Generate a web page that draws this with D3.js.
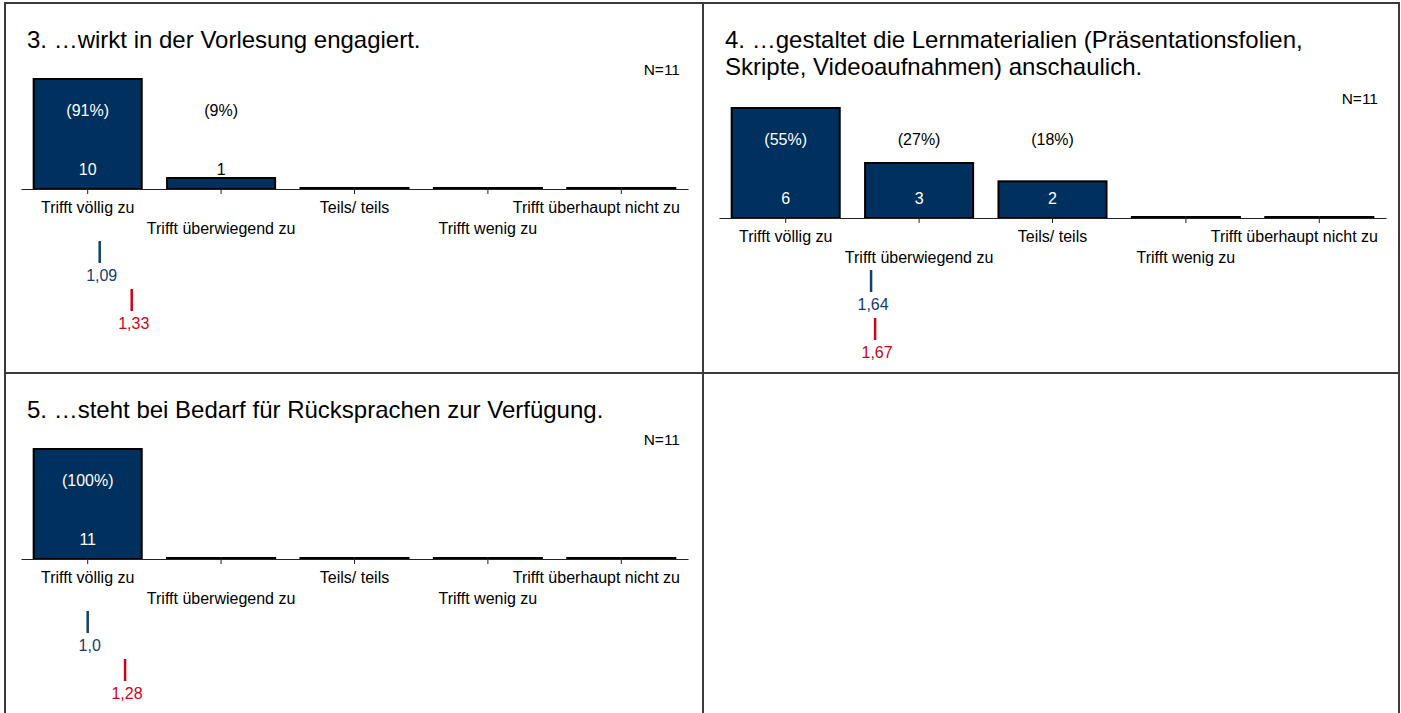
<!DOCTYPE html>
<html>
<head>
<meta charset="utf-8">
<script src="https://cdn.jsdelivr.net/npm/d3@7"></script>
<style>
  body { margin: 0; background: #fff; }
  svg { font-family: "Liberation Sans", Arial, sans-serif; display: block; }
</style>
</head>
<body>
<div id="ChartContainer"></div>
<script>
// data
var categories = ["Trifft völlig zu", "Trifft überwiegend zu", "Teils/ teils", "Trifft wenig zu", "Trifft überhaupt nicht zu"]
var titles = [
  ["3. …wirkt in der Vorlesung engagiert."],
  ["4. …gestaltet die Lernmaterialien (Präsentationsfolien,", "Skripte, Videoaufnahmen) anschaulich."],
  ["5. …steht bei Bedarf für Rücksprachen zur Verfügung."]
]
var counts = [
  [10, 1, 0, 0, 0],
  [6, 3, 2, 0, 0],
  [11, 0, 0, 0, 0]
]
var percents = [
  [91, 9, 0, 0, 0],
  [55, 27, 18, 0, 0],
  [100, 0, 0, 0, 0]
]
var nTotals = [11, 11, 11]
var means = [1.09, 1.64, 1.0]
var meanLabels = ["1,09", "1,64", "1,0"]
var refMeans = [1.33, 1.67, 1.28]
var refLabels = ["1,33", "1,67", "1,28"]

var fullWidth = 1401
var fullHeight = 713
var barColor = "#00305e"
var blue = "#12406f"
var red = "#d0021b"
var labelSize = 16

// panel origins (grid of 2 x 2, last one empty)
var panels = [
  {x: 5, y: 3},
  {x: 703, y: 3},
  {x: 5, y: 373}
]

var svg = d3.select("#ChartContainer").append("svg")
  .attr("width", fullWidth)
  .attr("height", fullHeight)

function drawPanel(i) {
  var p = panels[i]
  var g = svg.append("g")
    .attr("transform", `translate(${p.x},${p.y})`)

  var lines = titles[i]
  var axisY = 186 + (lines.length - 1) * 29
  var barMax = 110

  // Title
  g.selectAll(".Title")
    .data(lines)
    .enter().append("text")
    .attr("class", "Title")
    .attr("x", 22)
    .attr("y", (d, k) => 37 + k * 27)
    .attr("dy", "0.35em")
    .attr("font-size", 24)
    .attr("fill", "#000")
    .text(d => d)

  // N label
  g.append("text")
    .attr("x", 675)
    .attr("y", axisY - 119)
    .attr("dy", "0.35em")
    .attr("text-anchor", "end")
    .attr("font-size", 15.5)
    .text("N=" + nTotals[i])

  var x = d3.scaleBand()
    .domain(categories)
    .range([16, 683])
    .paddingInner(0.19)
    .paddingOuter(0.095)

  var y = d3.scaleLinear()
    .domain([0, d3.max(counts[i])])
    .range([axisY, axisY - barMax])

  var m = d3.scaleLinear()
    .domain([1, 5])
    .range([x(categories[0]) + x.bandwidth() / 2, x(categories[4]) + x.bandwidth() / 2])

  var data = categories.map((c, k) => ({cat: c, v: counts[i][k], pct: percents[i][k]}))

  // bars (empty ones show as a flat line on the axis)
  g.selectAll(".Bar")
    .data(data)
    .enter().append("rect")
    .attr("class", "Bar")
    .attr("x", d => x(d.cat))
    .attr("y", d => Math.min(y(d.v), axisY - 1))
    .attr("width", x.bandwidth())
    .attr("height", d => Math.max(1, axisY - y(d.v)))
    .attr("fill", barColor)
    .attr("stroke", "#000")
    .attr("stroke-width", 2)

  // x-axis
  var xAxis = g.append("g")
    .attr("class", "axis axis-x")
    .attr("transform", "translate(0," + axisY + ")")
    .call(d3.axisBottom(x).tickSizeOuter(0).tickSizeInner(5))
  xAxis.select(".domain").attr("stroke", "#222").attr("stroke-width", 1.2)
  xAxis.selectAll(".tick line").attr("y1", -2).attr("stroke", "#222")
  xAxis.selectAll(".tick text")
    .attr("font-family", "Liberation Sans, Arial, sans-serif")
    .attr("font-size", labelSize)
    .attr("fill", "#000")
    .attr("y", (d, k) => 18 + (k % 2) * 21)
    .attr("dy", "0.35em")
    .each(function (d) {
      // keep the long labels inside the panel
      var w = this.getComputedTextLength()
      var cx = x(d) + x.bandwidth() / 2
      var over = cx + w / 2 - 675
      if (over > 0) d3.select(this).attr("x", -over)
    })

  var shown = data.filter(d => d.v > 0)

  // percentages
  var pctY = axisY - 79
  g.selectAll(".Pct")
    .data(shown)
    .enter().append("text")
    .attr("class", "Pct")
    .attr("x", d => x(d.cat) + x.bandwidth() / 2)
    .attr("y", pctY)
    .attr("dy", "0.35em")
    .attr("text-anchor", "middle")
    .attr("font-size", labelSize)
    .attr("fill", d => y(d.v) < pctY - 10 ? "#fff" : "#000")
    .text(d => "(" + d.pct + "%)")

  // counts
  var cntY = axisY - 20
  g.selectAll(".Cnt")
    .data(shown)
    .enter().append("text")
    .attr("class", "Cnt")
    .attr("x", d => x(d.cat) + x.bandwidth() / 2)
    .attr("y", cntY)
    .attr("dy", "0.35em")
    .attr("text-anchor", "middle")
    .attr("font-size", labelSize)
    .attr("fill", d => y(d.v) < cntY - 10 ? "#fff" : "#000")
    .text(d => d.v)

  // mean markers
  var marks = [
    {v: means[i], label: meanLabels[i], color: blue, top: 52},
    {v: refMeans[i], label: refLabels[i], color: red, top: 100}
  ]
  marks.forEach(mk => {
    g.append("line")
      .attr("x1", m(mk.v))
      .attr("x2", m(mk.v))
      .attr("y1", axisY + mk.top)
      .attr("y2", axisY + mk.top + 22)
      .attr("stroke", mk.color)
      .attr("stroke-width", 2.5)
    g.append("text")
      .attr("x", m(mk.v) + 2)
      .attr("y", axisY + mk.top + 34)
      .attr("dy", "0.35em")
      .attr("text-anchor", "middle")
      .attr("font-size", labelSize)
      .attr("fill", mk.color)
      .text(mk.label)
  })
}

panels.forEach((p, i) => drawPanel(i))

// grid lines of the table
var grid = svg.append("g")
  .attr("stroke", "#3a3a3a")
  .attr("stroke-width", 2)
grid.append("line").attr("x1", 4).attr("x2", 1400).attr("y1", 3).attr("y2", 3)
grid.append("line").attr("x1", 4).attr("x2", 1400).attr("y1", 373).attr("y2", 373)
grid.append("line").attr("x1", 5).attr("x2", 5).attr("y1", 2).attr("y2", fullHeight)
grid.append("line").attr("x1", 703).attr("x2", 703).attr("y1", 2).attr("y2", fullHeight)
grid.append("line").attr("x1", 1399).attr("x2", 1399).attr("y1", 2).attr("y2", fullHeight)
</script>
</body>
</html>
